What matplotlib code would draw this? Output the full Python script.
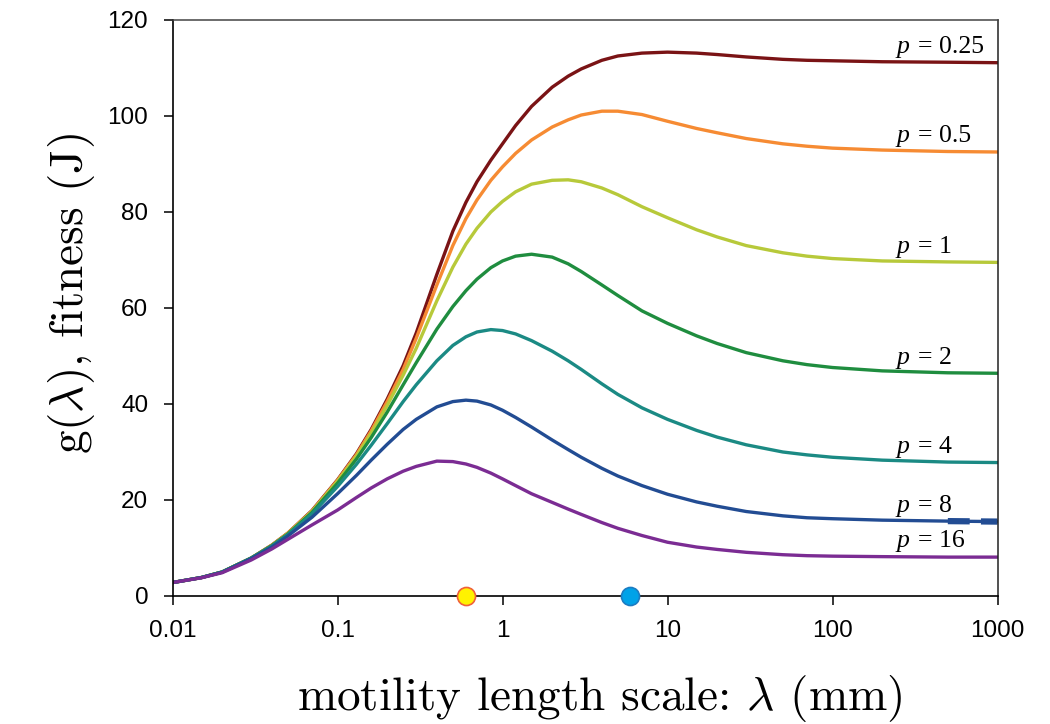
import matplotlib
matplotlib.use("Agg")
import matplotlib.pyplot as plt

plt.rcParams["mathtext.fontset"] = "cm"

# motility length scale (mm)
lam = [0.01, 0.015, 0.02, 0.03, 0.04, 0.05, 0.07, 0.1, 0.13, 0.16, 0.2, 0.25,
       0.3, 0.4, 0.5, 0.6, 0.7, 0.85, 1, 1.2, 1.5, 2, 2.5, 3, 4, 5, 7, 10,
       15, 20, 30, 50, 70, 100, 200, 500, 1000]

p_labels = ["0.25", "0.5", "1", "2", "4", "8", "16"]

g_p025 = [2.8, 3.85, 5.0, 7.9, 10.6, 13.1, 17.8, 24.2, 29.6, 34.7, 41.0, 48.0,
          54.8, 67.0, 76.0, 82.0, 86.3, 90.8, 94.2, 98.0, 102.0, 106.0, 108.3, 109.8, 111.6, 112.5, 113.1, 113.3,
          113.1, 112.8, 112.3, 111.8, 111.6, 111.5, 111.3, 111.2, 111.1]
g_p05 = [2.8, 3.85, 5.0, 7.9, 10.6, 13.1, 17.7, 24.1, 29.4, 34.4, 40.5, 47.2,
         53.7, 64.8, 73.0, 78.6, 82.5, 86.6, 89.4, 92.2, 95.0, 97.7, 99.2, 100.2, 101.0, 101.0, 100.3, 98.9,
         97.4, 96.5, 95.3, 94.2, 93.7, 93.3, 92.9, 92.6, 92.5]
g_p1 = [2.8, 3.85, 5.0, 7.9, 10.5, 13.0, 17.6, 23.9, 29.1, 33.9, 39.7, 46.0,
        51.6, 61.5, 68.5, 73.3, 76.6, 80.0, 82.2, 84.2, 85.8, 86.6, 86.7, 86.3, 85.0, 83.6, 81.1, 78.8,
        76.3, 74.8, 73.0, 71.5, 70.8, 70.3, 69.8, 69.6, 69.5]
g_p2 = [2.8, 3.85, 5.0, 7.9, 10.5, 12.9, 17.4, 23.5, 28.5, 33.0, 38.3, 44.0,
        48.6, 55.6, 60.3, 63.6, 66.0, 68.4, 69.8, 70.8, 71.2, 70.6, 69.2, 67.6, 64.8, 62.6, 59.4, 56.8,
        54.2, 52.6, 50.7, 49.0, 48.2, 47.6, 46.9, 46.5, 46.4]
g_p4 = [2.8, 3.85, 5.0, 7.9, 10.4, 12.8, 17.1, 22.8, 27.4, 31.4, 35.9, 40.5,
        44.0, 49.0, 52.2, 54.0, 55.0, 55.5, 55.3, 54.6, 53.2, 51.0, 49.0, 47.2, 44.2, 42.0, 39.2, 36.8,
        34.5, 33.1, 31.5, 30.0, 29.4, 28.9, 28.3, 27.9, 27.8]
g_p8 = [2.8, 3.85, 4.95, 7.8, 10.2, 12.5, 16.4, 21.3, 25.1, 28.3, 31.6, 34.7,
        36.8, 39.4, 40.5, 40.8, 40.6, 39.8, 38.7, 37.2, 35.2, 32.5, 30.5, 28.9, 26.6, 25.0, 23.0, 21.2,
        19.6, 18.7, 17.6, 16.7, 16.3, 16.1, 15.8, 15.6, 15.5]
g_p16 = [2.8, 3.8, 4.85, 7.5, 9.8, 11.8, 14.8, 17.9, 20.5, 22.5, 24.4, 26.0,
         27.0, 28.1, 28.0, 27.5, 26.8, 25.6, 24.4, 23.0, 21.3, 19.5, 18.1, 17.0, 15.3, 14.1, 12.6, 11.2,
         10.2, 9.7, 9.1, 8.6, 8.4, 8.3, 8.2, 8.1, 8.1]

curves = [g_p025, g_p05, g_p1, g_p2, g_p4, g_p8, g_p16]
colors = ["#7A1315", "#F68B33", "#B7C93A", "#1F8D3F", "#1B8A84", "#224C93", "#7B2C93"]

# marked motility scales on the lambda axis
marker_lambda = [0.6, 5.9]
marker_face = ["#FFF200", "#00A2E8"]
marker_edge = ["#F0603A", "#1C7CC2"]

fig = plt.figure(figsize=(10.5, 7.24), dpi=100)
ax = fig.add_axes([0.1643, 0.1768, 0.7857, 0.7956])

for g, c in zip(curves, colors):
    ax.plot(lam, g, color=c, lw=2.4, solid_joinstyle="round")

# heavier dashes on the tail of p = 8
ax.plot(lam[-2:], g_p8[-2:], color=colors[5], lw=4.5, dashes=(3.5, 1.8))

for g, lab in zip(curves, p_labels):
    ax.annotate("p", xy=(lam[-1], g[-1]), xytext=(-72.5, 7), textcoords="offset points",
                fontsize=18.5, family="Liberation Serif", style="italic",
                ha="left", va="baseline")
    ax.annotate("= " + lab, xy=(lam[-1], g[-1]), xytext=(-57.5, 7), textcoords="offset points",
                fontsize=18.5, family="Liberation Serif", ha="left", va="baseline")

for xm, fc, ec in zip(marker_lambda, marker_face, marker_edge):
    ax.plot([xm], [0], "o", ms=13, mfc=fc, mec=ec, mew=1.2, clip_on=False, zorder=5)

ax.set_xscale("log")
ax.set_xlim(0.01, 1000)
ax.set_ylim(0, 120)
ax.set_xticks([0.01, 0.1, 1, 10, 100, 1000])
ax.set_xticklabels(["0.01", "0.1", "1", "10", "100", "1000"])
ax.minorticks_off()
ax.set_yticks(range(0, 121, 20))

ax.tick_params(axis="both", direction="out", length=6.5, width=1.1, pad=11,
               labelsize=17.5, colors="black")
for lab in ax.get_xticklabels() + ax.get_yticklabels():
    lab.set_family("Liberation Sans")

ax.spines["left"].set_linewidth(1.2)
ax.spines["bottom"].set_linewidth(1.2)
ax.spines["top"].set_color("#444444")
ax.spines["right"].set_color("#222222")
ax.spines["top"].set_linewidth(1.1)
ax.spines["right"].set_linewidth(1.1)

fig.text(600 / 1050, 1 - 710 / 724, r"motility length scale: $\lambda$ (mm)",
         family="cmr10", fontsize=34, ha="center", va="baseline")
fig.text(72 / 1050, 1 - 294 / 724, r"g($\lambda$), fitness (J)",
         family="cmr10", fontsize=34, ha="center", va="center", rotation=90)

fig.savefig("out.png", dpi=100, facecolor="white")
